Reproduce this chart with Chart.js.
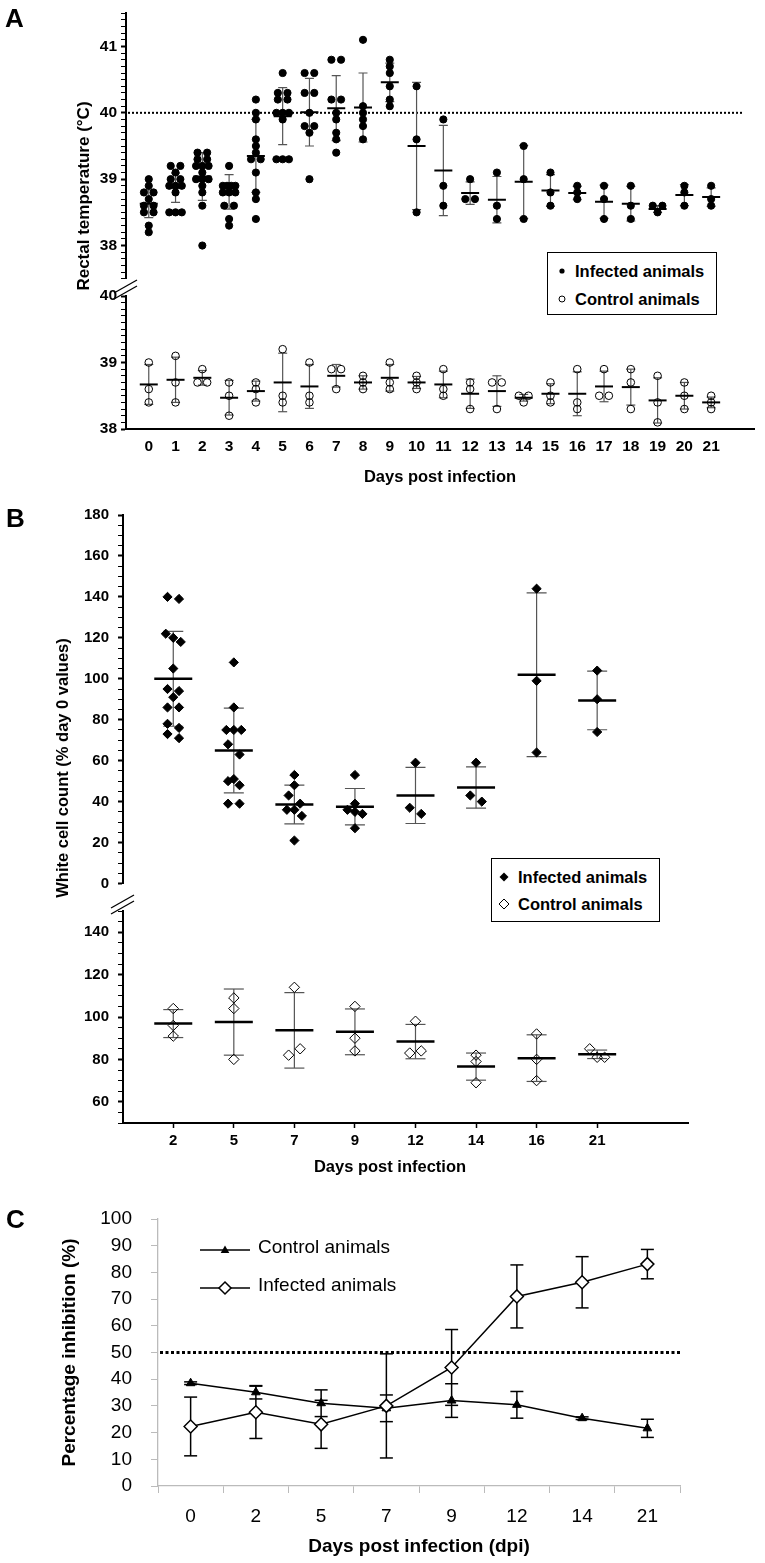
<!DOCTYPE html>
<html>
<head>
<meta charset="utf-8">
<script src="https://cdn.jsdelivr.net/npm/chart.js@4.4.1/dist/chart.umd.min.js"></script>
<style>
  body { margin: 0; background: #fff; font-family: "Liberation Sans", Arial, sans-serif; }
  #page { position: relative; width: 765px; height: 1563px; overflow: hidden; }
  canvas { position: absolute; left: 0; }
  .txt { position: absolute; white-space: nowrap; color: #000; z-index: 5; }
  .panel { font-weight: bold; font-size: 26px; line-height: 26px; }
  .rot { font-weight: bold; text-align: center; transform: rotate(-90deg); }
  .legend { position: absolute; box-sizing: border-box; border: 1.5px solid #000; background: #fff; z-index: 5; }
  .legend .row { position: absolute; left: 0; right: 0; height: 20px; }
  .legend svg { position: absolute; top: 0; }
  .legend span { position: absolute; font-weight: bold; font-size: 16.5px; line-height: 20px; white-space: nowrap; }
  .cleg { position: absolute; z-index: 5; }
  .cleg span { position: absolute; font-size: 19px; line-height: 22px; white-space: nowrap; }
</style>
</head>
<body>
<div id="page">
  <canvas id="aTop" width="765" height="292" style="top:0"></canvas>
  <canvas id="aBot" width="765" height="220" style="top:270px"></canvas>
  <canvas id="bTop" width="765" height="415" style="top:490px"></canvas>
  <canvas id="bBot" width="765" height="275" style="top:880px"></canvas>
  <canvas id="cChart" width="765" height="393" style="top:1170px"></canvas>

  <div class="txt panel" style="left:5px;top:5px">A</div>
  <div class="txt panel" style="left:6px;top:505px">B</div>
  <div class="txt panel" style="left:6px;top:1206px">C</div>

  <div class="txt rot" style="left:-66px;top:185px;width:300px;height:22px;line-height:22px;font-size:17px">Rectal temperature (°C)</div>
  <div class="txt rot" style="left:-88px;top:757px;width:300px;height:22px;line-height:22px;font-size:16.5px">White cell count (% day 0 values)</div>
  <div class="txt" style="left:240px;top:1155px;width:300px;text-align:center;font-weight:bold;font-size:16.5px;line-height:22px">Days post infection</div>

  <div class="legend" style="left:547px;top:252px;width:170px;height:63px">
    <div class="row" style="top:8px">
      <svg width="12" height="20" style="left:8px"><circle cx="6" cy="10" r="2.6" fill="#000"/></svg>
      <span style="left:27px">Infected animals</span>
    </div>
    <div class="row" style="top:36px">
      <svg width="12" height="20" style="left:8px"><circle cx="6" cy="10" r="3" fill="none" stroke="#000" stroke-width="1"/></svg>
      <span style="left:27px">Control animals</span>
    </div>
  </div>

  <div class="legend" style="left:491px;top:858px;width:169px;height:64px">
    <div class="row" style="top:8px">
      <svg width="14" height="20" style="left:5px"><path d="M7 5.5 L11.5 10 L7 14.5 L2.5 10 Z" fill="#000"/></svg>
      <span style="left:26px">Infected animals</span>
    </div>
    <div class="row" style="top:35px">
      <svg width="14" height="20" style="left:5px"><path d="M7 5 L12 10 L7 15 L2 10 Z" fill="none" stroke="#000" stroke-width="1"/></svg>
      <span style="left:26px">Control animals</span>
    </div>
  </div>

  <div class="cleg" style="left:198px;top:1236px;width:260px;height:70px">
    <svg width="56" height="70" style="position:absolute;left:0;top:0">
      <line x1="2" y1="14" x2="52" y2="14" stroke="#000" stroke-width="1.5"/>
      <path d="M27 9.5 L31.3 17 L22.7 17 Z" fill="#000"/>
      <line x1="2" y1="52" x2="52" y2="52" stroke="#000" stroke-width="1.5"/>
      <path d="M27 46 L33 52 L27 58 L21 52 Z" fill="#fff" stroke="#000" stroke-width="1.5"/>
    </svg>
    <span style="left:60px;top:0px">Control animals</span>
    <span style="left:60px;top:38px">Infected animals</span>
  </div>
</div>

<script>
// ---------------- Panel A: rectal temperature ----------------
const tempDays = [0, 1, 2, 3, 4, 5, 6, 7, 8, 9, 10, 11, 12, 13, 14, 15, 16, 17, 18, 19, 20, 21];

const tempInfectedPoints = [
    [39.0, 38.9, 38.8, 38.8, 38.7, 38.6, 38.6, 38.5, 38.5, 38.3, 38.2],
    [39.2, 39.2, 39.1, 39.0, 39.0, 38.9, 38.9, 38.9, 38.8, 38.5, 38.5, 38.5],
    [39.4, 39.4, 39.3, 39.3, 39.2, 39.2, 39.2, 39.1, 39.0, 39.0, 39.0, 38.9, 38.8, 38.6, 38.0],
    [39.2, 38.9, 38.9, 38.9, 38.9, 38.8, 38.8, 38.8, 38.6, 38.6, 38.4, 38.3],
    [40.2, 40.0, 39.9, 39.6, 39.5, 39.4, 39.3, 39.3, 39.1, 38.8, 38.7, 38.4],
    [40.6, 40.3, 40.3, 40.2, 40.2, 40.0, 40.0, 40.0, 39.9, 39.3, 39.3, 39.3],
    [40.6, 40.6, 40.3, 40.3, 40.0, 39.8, 39.8, 39.7, 39.0],
    [40.8, 40.8, 40.2, 40.2, 40.0, 39.9, 39.7, 39.6, 39.4],
    [41.1, 40.1, 40.0, 39.9, 39.8, 39.6],
    [40.8, 40.7, 40.6, 40.4, 40.2, 40.1],
    [40.4, 39.6, 38.5],
    [39.9, 38.9, 38.6],
    [39.0, 38.7, 38.7],
    [39.1, 38.6, 38.4],
    [39.5, 39.0, 38.4],
    [39.1, 38.8, 38.6],
    [38.9, 38.8, 38.7],
    [38.9, 38.7, 38.4],
    [38.9, 38.6, 38.4],
    [38.6, 38.6, 38.5],
    [38.9, 38.8, 38.6],
    [38.9, 38.7, 38.6]
];
const tempInfectedMean = [38.63, 38.87, 39.04, 38.81, 39.35, 39.95, 40.01, 40.07, 40.08, 40.46, 39.5,
    39.13, 38.79, 38.69, 38.96, 38.83, 38.79, 38.66, 38.63, 38.55, 38.76, 38.73];
const tempInfectedSd = [0.21, 0.22, 0.36, 0.26, 0.55, 0.43, 0.51, 0.49, 0.52, 0.29, 0.96,
    0.68, 0.17, 0.35, 0.55, 0.24, 0.1, 0.25, 0.26, 0.05, 0.16, 0.14];

const tempControlPoints = [
    [39.0, 38.6, 38.4], [39.1, 38.7, 38.4], [38.9, 38.7, 38.7], [38.7, 38.5, 38.2],
    [38.7, 38.6, 38.4], [39.2, 38.5, 38.4], [39.0, 38.5, 38.4], [38.9, 38.9, 38.6],
    [38.8, 38.7, 38.6], [39.0, 38.7, 38.6], [38.8, 38.7, 38.6], [38.9, 38.6, 38.5],
    [38.7, 38.6, 38.3], [38.7, 38.7, 38.3], [38.5, 38.5, 38.4], [38.7, 38.5, 38.4],
    [38.9, 38.4, 38.3], [38.9, 38.5, 38.5], [38.9, 38.7, 38.3], [38.8, 38.4, 38.1],
    [38.7, 38.5, 38.3], [38.5, 38.4, 38.3]
];
const tempControlMean = [38.67, 38.74, 38.77, 38.47, 38.57, 38.7, 38.64, 38.8, 38.7, 38.77, 38.7,
    38.67, 38.53, 38.57, 38.47, 38.53, 38.53, 38.64, 38.63, 38.43, 38.5, 38.4];
const tempControlSd = [0.3, 0.34, 0.11, 0.26, 0.15, 0.44, 0.33, 0.17, 0.1, 0.2, 0.09,
    0.2, 0.22, 0.23, 0.05, 0.15, 0.33, 0.23, 0.27, 0.34, 0.2, 0.08];

const feverLine = 40;

// ---------------- Panel B: white cell count ----------------
const wbcDays = ['2', '5', '7', '9', '12', '14', '16', '21'];

const wbcInfectedPoints = [
    [140, 139, 122, 120, 118, 105, 95, 94, 91, 86, 86, 78, 76, 73, 71],
    [108, 86, 75, 75, 75, 68, 63, 51, 50, 48, 39, 39],
    [53, 48, 43, 39, 36, 36, 33, 21],
    [53, 39, 36, 35, 34, 27],
    [59, 37, 34],
    [59, 43, 40],
    [144, 99, 64],
    [104, 90, 74]
];
const wbcInfectedMean = [100, 65, 38.6, 37.5, 43, 46.9, 102, 89.4];
const wbcInfectedSd = [23.2, 20.7, 9.5, 8.9, 13.7, 10.1, 40, 14.3];

const wbcControlPoints = [
    [104, 96, 91], [109, 104, 80], [114, 82, 85], [105, 90, 84],
    [98, 83, 84], [82, 79, 69], [92, 80, 70], [85, 81, 81]
];
const wbcControlMean = [96.9, 97.6, 93.7, 93, 88.4, 76.6, 80.6, 82.4];
const wbcControlSd = [6.6, 15.6, 17.8, 10.8, 8.1, 6.4, 11, 2];

// ---------------- Panel C: percentage inhibition ----------------
const inhDays = ['0', '2', '5', '7', '9', '12', '14', '21'];
const inhControlMean = [38.5, 35.1, 31, 29.1, 32, 30.4, 25.4, 21.6];
const inhControlSd = [0.5, 2.5, 5, 5, 6.3, 5, 0.5, 3.4];
const inhInfectedMean = [22.3, 27.6, 23.1, 30, 44.4, 71, 76.3, 83.1];
const inhInfectedSd = [11, 9.8, 9, 19.5, 14.2, 11.8, 9.6, 5.5];
const inhCutoff = 50;

// ---------------- chart setup ----------------
Chart.defaults.font.family = '"Liberation Sans", Arial, sans-serif';
Chart.defaults.color = '#000';
Chart.defaults.animation = false;
Chart.defaults.responsive = false;
Chart.defaults.plugins.legend.display = false;
Chart.defaults.plugins.tooltip.enabled = false;

const isStep = (v, step) => Math.abs(v / step - Math.round(v / step)) < 1e-6;

// dotted reference line drawn through the y scale
const refLine = {
    id: 'refLine',
    beforeDatasetsDraw(chart, args, o) {
        if (o.value === undefined) return;
        const { ctx, chartArea: a, scales: { y } } = chart;
        const py = y.getPixelForValue(o.value);
        ctx.save();
        ctx.strokeStyle = '#000';
        ctx.lineWidth = o.width;
        ctx.setLineDash(o.dash);
        ctx.beginPath();
        ctx.moveTo(a.left + 2, py);
        ctx.lineTo(a.right - (o.inset || 0), py);
        ctx.stroke();
        ctx.restore();
    }
};

// "//" marks where the y axis is broken
const axisBreak = {
    id: 'axisBreak',
    afterDraw(chart, args, o) {
        if (!o.show) return;
        const { ctx, chartArea: a } = chart;
        const x = a.left, y = a.top - 6;
        ctx.save();
        ctx.strokeStyle = '#000';
        ctx.lineWidth = 1.3;
        [-3, 3].forEach(d => {
            ctx.beginPath();
            ctx.moveTo(x - 12, y + 6 + d);
            ctx.lineTo(x + 11, y - 7 + d);
            ctx.stroke();
        });
        ctx.restore();
    }
};

// spread equal values side by side around the day position
function swarm(xs, groups, slot, bin) {
    const pts = [];
    groups.forEach((vals, i) => {
        const bins = {};
        vals.forEach(v => {
            const b = Math.round(v / bin);
            (bins[b] = bins[b] || []).push(v);
        });
        Object.values(bins).forEach(list => {
            const n = list.length;
            const width = slot * Math.min(n - 1, 1.3);
            list.forEach((v, j) => {
                const off = n > 1 ? (j / (n - 1) - 0.5) * width : 0;
                pts.push({ x: xs[i] + off, y: v });
            });
        });
    });
    return pts;
}

function dotPlot(id, o) {
    const stems = [], caps = [], means = [];
    o.mean.forEach((m, i) => {
        const x = o.xs[i], lo = m - o.sd[i], hi = m + o.sd[i];
        stems.push({ x, y: lo }, { x, y: hi }, { x, y: null });
        caps.push({ x, y: lo }, { x, y: hi });
        means.push({ x, y: m });
    });

    return new Chart(document.getElementById(id), {
        type: 'scatter',
        data: {
            datasets: [
                { data: means, pointStyle: 'line', pointRadius: o.meanR, pointBorderWidth: o.meanW, pointBorderColor: '#000', order: 0 },
                {
                    data: swarm(o.xs, o.points, o.slot, o.bin),
                    pointStyle: o.marker, pointRadius: o.markerR,
                    pointBackgroundColor: o.fill, pointBorderColor: '#000', pointBorderWidth: 1, order: 1
                },
                { type: 'line', data: stems, borderColor: '#555', borderWidth: 1.2, pointRadius: 0, order: 2 },
                { data: caps, pointStyle: 'line', pointRadius: o.capR, pointBorderWidth: 1.2, pointBorderColor: '#555', order: 2 }
            ]
        },
        options: {
            layout: { padding: { top: o.padTop, right: o.padRight, bottom: o.padBottom, left: 0 } },
            scales: {
                x: {
                    type: 'linear', min: o.xMin, max: o.xMax, display: o.xAxis,
                    afterBuildTicks: s => { s.ticks = o.xs.map(v => ({ value: v })); },
                    afterFit: s => { if (o.xAxis) s.height = o.xHeight; },
                    ticks: {
                        autoSkip: false, maxRotation: 0, padding: o.xPad,
                        font: { size: o.tickSize, weight: 'bold' },
                        callback: (v, i) => o.xLabels[i]
                    },
                    grid: { drawOnChartArea: false, drawTicks: o.xTickLen > 0, tickLength: o.xTickLen, tickColor: '#000', tickWidth: 1.5 },
                    border: { color: '#000', width: 2 },
                    title: o.xTitle
                        ? { display: true, text: o.xTitle, font: { size: 16.5, weight: 'bold' }, padding: { top: 0, bottom: 3 } }
                        : { display: false }
                },
                y: {
                    min: o.yMin, max: o.yMax,
                    afterFit: s => { s.width = o.yWidth; },
                    ticks: {
                        stepSize: o.minor, autoSkip: false, padding: o.yPad,
                        font: { size: o.tickSize, weight: 'bold' },
                        callback: v => isStep(v, o.major) ? String(Math.round(v)) : ''
                    },
                    grid: {
                        drawOnChartArea: false, tickLength: 5, tickColor: '#000',
                        tickWidth: c => (c.tick && isStep(c.tick.value, o.major)) ? 2 : 1
                    },
                    border: { color: '#000', width: 2 }
                }
            },
            plugins: {
                refLine: o.ref || {},
                axisBreak: { show: !!o.brk }
            }
        },
        plugins: [refLine, axisBreak]
    });
}

const tempLabels = tempDays.map(String);
const wbcIdx = wbcDays.map((d, i) => i);

// A: infected (upper segment)
dotPlot('aTop', {
    xs: tempDays, xLabels: tempLabels, xMin: -0.85, xMax: 22.6, xAxis: false,
    points: tempInfectedPoints, mean: tempInfectedMean, sd: tempInfectedSd,
    marker: 'circle', markerR: 3.6, fill: '#000', slot: 0.36, bin: 0.1,
    meanR: 9, meanW: 2, capR: 4.5,
    yMin: 37.5, yMax: 41.5, minor: 0.1, major: 1, yWidth: 126, yPad: 4, tickSize: 15.5,
    padTop: 5, padRight: 5, padBottom: 8,
    ref: { value: feverLine, width: 2, dash: [2, 2], inset: 10 }
});

// A: control (lower segment)
dotPlot('aBot', {
    xs: tempDays, xLabels: tempLabels, xMin: -0.85, xMax: 22.6, xAxis: true, xHeight: 61,
    xPad: 8, xTickLen: 0, xTitle: 'Days post infection',
    points: tempControlPoints, mean: tempControlMean, sd: tempControlSd,
    marker: 'circle', markerR: 3.8, fill: 'rgba(0,0,0,0)', slot: 0.36, bin: 0.1,
    meanR: 9, meanW: 2, capR: 4.5,
    yMin: 38, yMax: 40, minor: 0.1, major: 1, yWidth: 126, yPad: 4, tickSize: 15.5,
    padTop: 26, padRight: 5, padBottom: 0, brk: true
});

// B: infected (upper segment)
dotPlot('bTop', {
    xs: wbcIdx, xLabels: wbcDays, xMin: -0.83, xMax: 8.5, xAxis: false,
    points: wbcInfectedPoints, mean: wbcInfectedMean, sd: wbcInfectedSd,
    marker: 'rectRot', markerR: 4.6, fill: '#000', slot: 0.19, bin: 6,
    meanR: 19, meanW: 2.5, capR: 10,
    yMin: 0, yMax: 180, minor: 5, major: 20, yWidth: 123, yPad: 9, tickSize: 15,
    padTop: 25, padRight: 77, padBottom: 6
});

// B: control (lower segment)
dotPlot('bBot', {
    xs: wbcIdx, xLabels: wbcDays, xMin: -0.83, xMax: 8.5, xAxis: true, xHeight: 32,
    xPad: 4, xTickLen: 5,
    points: wbcControlPoints, mean: wbcControlMean, sd: wbcControlSd,
    marker: 'rectRot', markerR: 5.2, fill: 'rgba(0,0,0,0)', slot: 0.19, bin: 6,
    meanR: 19, meanW: 2.5, capR: 10,
    yMin: 50, yMax: 150, minor: 5, major: 20, yWidth: 123, yPad: 9, tickSize: 15,
    padTop: 31, padRight: 77, padBottom: 0, brk: true
});

// C: inhibition over time
const cStems = [], cCaps = [];
[[inhControlMean, inhControlSd], [inhInfectedMean, inhInfectedSd]].forEach(([m, s]) => {
    m.forEach((v, i) => {
        const x = inhDays[i];
        cStems.push({ x, y: v - s[i] }, { x, y: v + s[i] }, { x, y: null });
        cCaps.push({ x, y: v - s[i] }, { x, y: v + s[i] });
    });
});

new Chart(document.getElementById('cChart'), {
    type: 'line',
    data: {
        labels: inhDays,
        datasets: [
            {
                label: 'Infected animals', data: inhInfectedMean, borderColor: '#000', borderWidth: 1.5,
                pointStyle: 'rectRot', pointRadius: 6.5, pointBackgroundColor: '#fff',
                pointBorderColor: '#000', pointBorderWidth: 1.5, order: 0
            },
            {
                label: 'Control animals', data: inhControlMean, borderColor: '#000', borderWidth: 1.5,
                pointStyle: 'triangle', pointRadius: 5, pointBackgroundColor: '#000',
                pointBorderColor: '#000', pointBorderWidth: 1, order: 1
            },
            { data: cStems, borderColor: '#000', borderWidth: 1.5, pointRadius: 0, order: 2 },
            { data: cCaps, showLine: false, pointStyle: 'line', pointRadius: 6.5, pointBorderColor: '#000', pointBorderWidth: 1.5, order: 2 }
        ]
    },
    options: {
        layout: { padding: { top: 49, right: 85, bottom: 0, left: 0 } },
        scales: {
            x: {
                offset: true,
                afterFit: s => { s.height = 77; },
                grid: { offset: true, drawOnChartArea: false, tickLength: 7, color: '#bbb', tickColor: '#bbb' },
                border: { color: '#bbb', width: 1.3 },
                ticks: { font: { size: 19 }, padding: 12, maxRotation: 0 },
                title: { display: true, text: 'Days post infection (dpi)', font: { size: 19, weight: 'bold' }, padding: { top: 0, bottom: 5 } }
            },
            y: {
                min: 0, max: 100,
                afterFit: s => { s.width = 158; },
                grid: { drawOnChartArea: false, tickLength: 7, tickColor: '#bbb' },
                border: { color: '#bbb', width: 1.3 },
                ticks: { stepSize: 10, font: { size: 19 }, padding: 19 },
                title: { display: true, text: 'Percentage inhibition (%)', font: { size: 19, weight: 'bold' }, padding: { top: 58, bottom: 0 } }
            }
        },
        plugins: {
            refLine: { value: inhCutoff, width: 3, dash: [3, 2.5], inset: 0 }
        }
    },
    plugins: [refLine]
});
</script>
</body>
</html>
